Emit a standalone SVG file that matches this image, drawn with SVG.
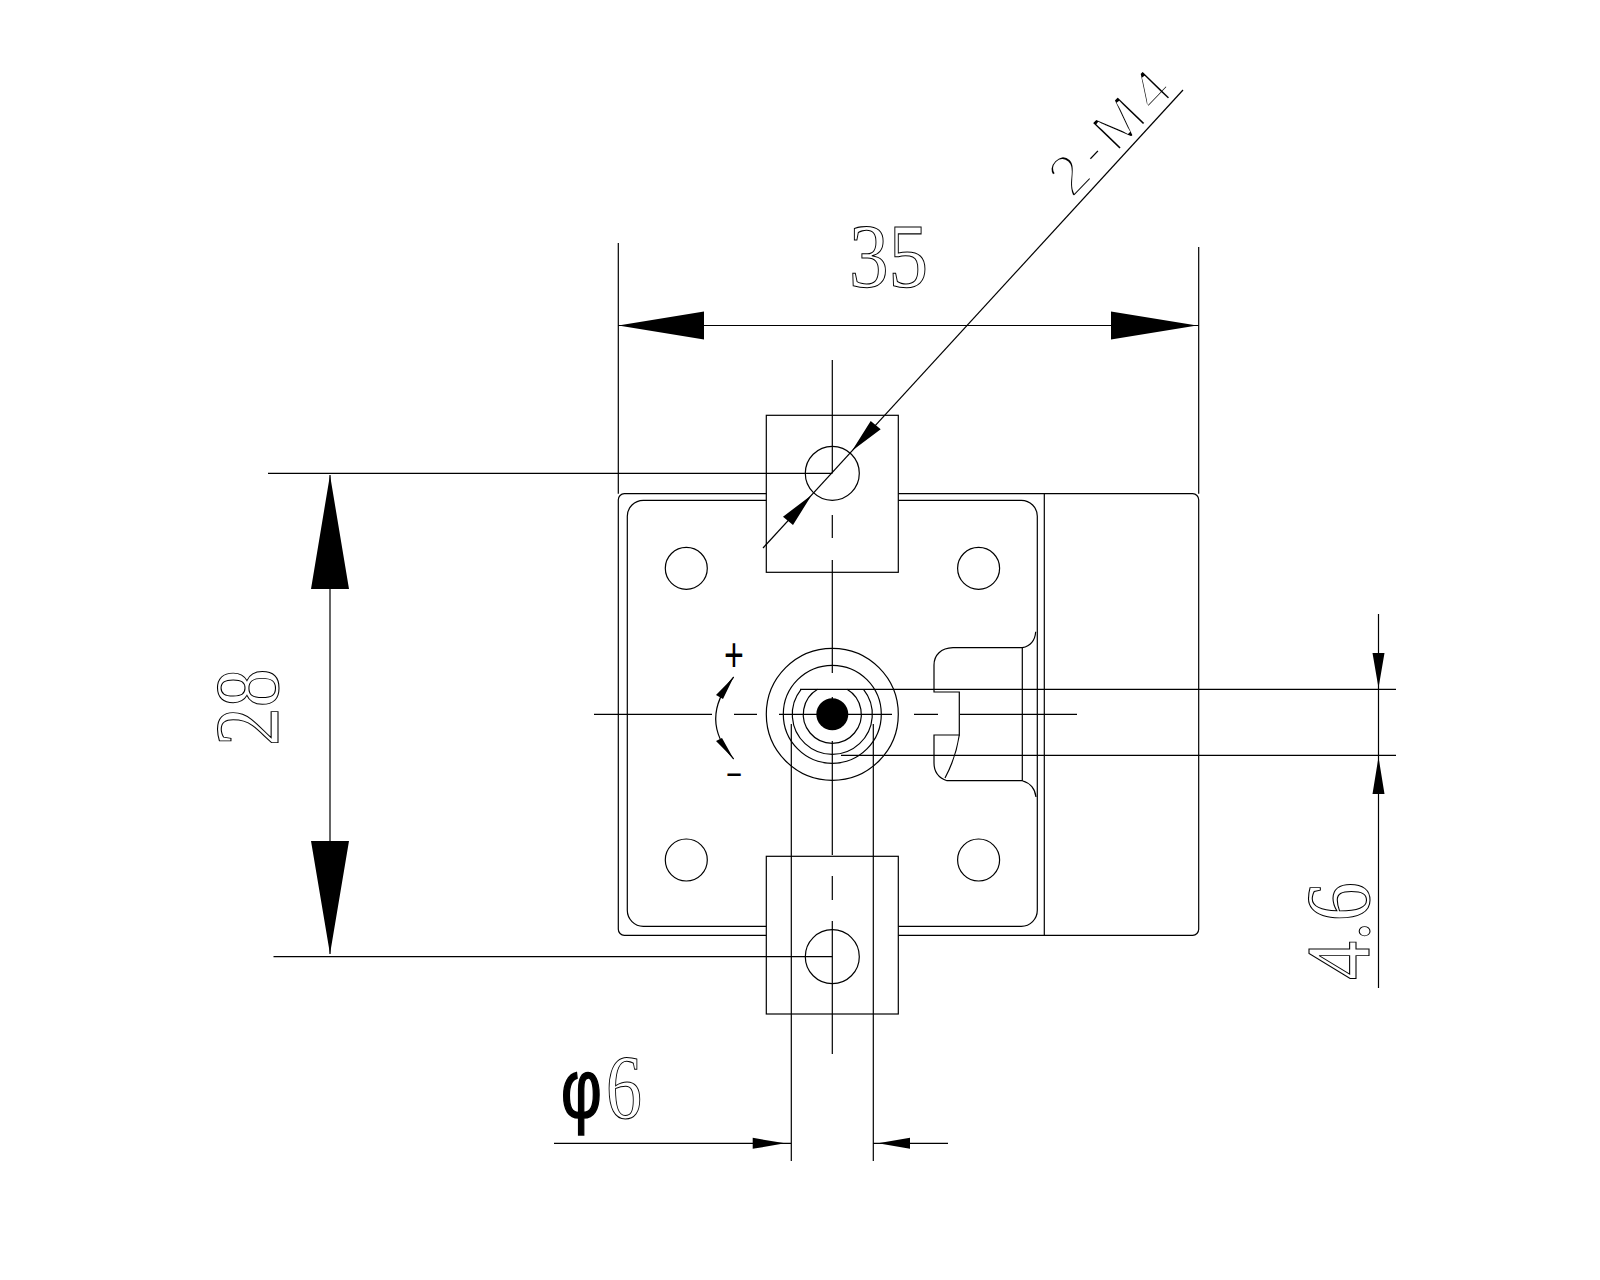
<svg xmlns="http://www.w3.org/2000/svg" width="1600" height="1280" viewBox="0 0 1600 1280">
<style>
.l{fill:none;stroke:#000;stroke-width:1.2}
.w{fill:#fff;stroke:#000;stroke-width:1.2}
.a{fill:#000;stroke:none}
.o{font-family:"Liberation Serif",serif;font-size:92px;fill:none;stroke:#000;stroke-width:1.1}
.t{font-family:"Liberation Sans",sans-serif;fill:#000;stroke:#fff;stroke-width:3.3px;font-size:58px;letter-spacing:6px}
</style>
<rect width="1600" height="1280" fill="#fff"/>
<g id="body">
<rect class="l" x="618.3" y="493.7" width="580.4" height="441.6" rx="6"/>
<path class="l" d="M1044.3 493.7V935.3"/>
<rect class="l" x="627.3" y="500.3" width="410" height="426" rx="16"/>
<circle class="l" cx="686.3" cy="568.3" r="21"/>
<circle class="l" cx="978.6" cy="568.3" r="21"/>
<circle class="l" cx="686.3" cy="860" r="21"/>
<circle class="l" cx="978.6" cy="860" r="21"/>
</g>
<g id="slot">
<path class="l" d="M1035.7 631.7C1035 641 1030 646 1022.3 647.7H953C941 648 934 655 934 665V692H959.3V735H934V763C934 772 939 778 947 780.7H1022.3C1030 783 1035 788 1036 797"/>
<path class="l" d="M1022.3 647.7V780.7M959.3 735C957 750 952 765 945 778"/>
</g>
<g id="bracket-top">
<rect class="w" x="766.3" y="415.3" width="132" height="157"/>
<circle class="l" cx="832.3" cy="473.3" r="27"/>
</g>
<g id="bracket-bottom">
<rect class="w" x="766.3" y="856.3" width="132" height="157.7"/>
<circle class="l" cx="832.3" cy="956.7" r="27"/>
</g>
<g id="shaft">
<circle class="l" cx="832.3" cy="714.3" r="66"/>
<circle class="l" cx="832.3" cy="714.3" r="49"/>
<path class="l" d="M801.1 689.3A40 40 0 1 0 863.5 689.3"/>
<path class="l" d="M817.6 689.3A29 29 0 1 0 847 689.3"/>
<circle class="a" cx="832.3" cy="714.3" r="16"/>
</g>
<g id="centerlines">
<path class="l" d="M594 714.3H712M734 714.3H757M779 714.3H892M914 714.3H938M960 714.3H1077"/>
<path class="l" d="M832.3 360V473.3M832.3 515V538M832.3 560V673M832.3 697V707M832.3 741V855M832.3 876V900M832.3 921V1054"/>
</g>
<g id="dim-35">
<path class="l" d="M618.3 243V493.7M1198.7 247V493.7M618.3 325.5H1198.7"/>
<path class="a" d="M618.3 325.5L704 311.5V339.5ZM1197 325.5L1111 311.5V339.5Z"/>
<text class="o" transform="translate(849,287) scale(.86,1)">35</text>
</g>
<g id="dim-28">
<path class="l" d="M268 473.3H832.3M273.5 956.7H832.3M330 475V954"/>
<path class="a" d="M330 475L311 589H349ZM330 954L311 841H349Z"/>
<text class="o" transform="translate(278,746) rotate(-90) scale(.84,1)">28</text>
</g>
<g id="dim-4.6">
<path class="l" d="M800 689.3H1396M841 755.3H1396M1378.5 614V988"/>
<path class="a" d="M1378.5 688L1372.5 653H1384.5ZM1378.5 757L1372.5 794H1384.5Z"/>
<text class="o" transform="translate(1369,980) rotate(-90) scale(.85,1)">4.6</text>
</g>
<g id="dim-phi6">
<path class="l" d="M791.3 724V1161M873.3 724V1161M554 1143.3H791.3M873.3 1143.3H948"/>
<path class="a" d="M785 1143.3L752.7 1137.8V1148.8ZM878 1143.3L910 1137.8V1148.8Z"/>
<text transform="translate(561,1118) scale(.85,1.12)" font-family="Liberation Sans,sans-serif" font-size="74" stroke="#000" stroke-width="1.5">φ</text>
<text class="o" transform="translate(606,1118) scale(.78,1)">6</text>
</g>
<g id="leader-m4">
<text class="t" transform="translate(1072,200) rotate(-46)">2-M4</text>
<path class="l" d="M763 548L1183 90"/>
<path class="a" d="M811.7 495L783 516.7L793 525ZM852 450.7L870.7 421L880.7 429.3Z"/>
</g>
<g id="rotation">
<path class="l" d="M733.7 677C710 705 710 733 733.7 759"/>
<path class="a" d="M733.7 677L716 695L723 699ZM733.7 759L716 741L722 738Z"/>
<text transform="translate(734,671) scale(1,1.4)" text-anchor="middle" font-family="Liberation Sans,sans-serif" font-size="34" fill="#000">+</text>
<text transform="translate(734,784) scale(1.6,1)" text-anchor="middle" font-family="Liberation Sans,sans-serif" font-size="34" fill="#000">-</text>
</g>
</svg>
